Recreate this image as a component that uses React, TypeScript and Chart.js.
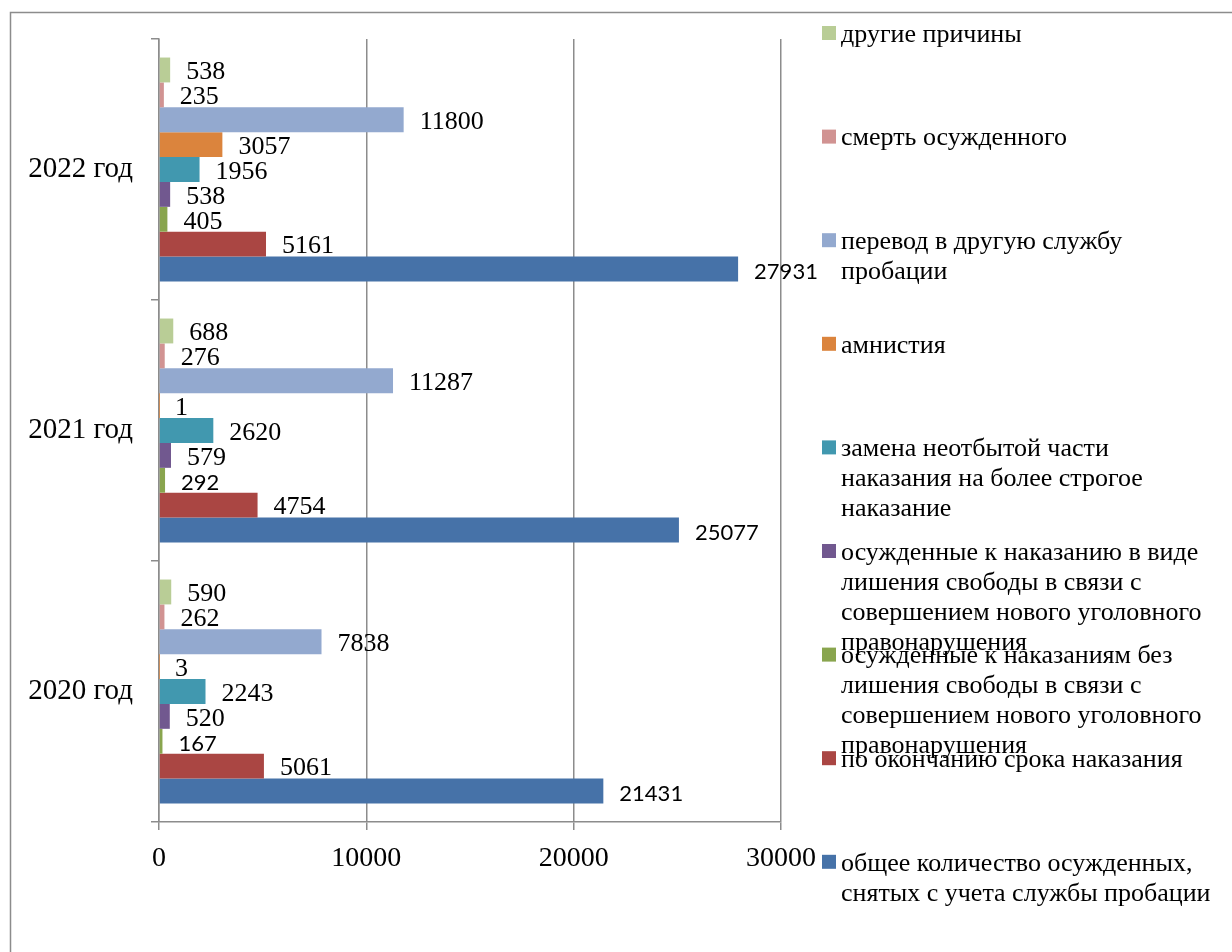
import React, { useEffect, useRef } from "react";
import { Chart, registerables } from "chart.js";

Chart.register(...registerables);

// ---- Data ----
const categories = ["2022 год", "2021 год", "2020 год"];

const otherReasons = [538, 688, 590];
const deathOfConvict = [235, 276, 262];
const transferProbation = [11800, 11287, 7838];
const amnesty = [3057, 1, 3];
const replacementStricter = [1956, 2620, 2243];
const imprisonedNewCrime = [538, 579, 520];
const nonCustodialNewCrime = [405, 292, 167];
const sentenceEnd = [5161, 4754, 5061];
const totalRemoved = [27931, 25077, 21431];

const xTickValues = [0, 10000, 20000, 30000];

const legendLines: string[][] = [
  ["другие причины"],
  ["смерть осужденного"],
  ["перевод в другую службу", "пробации"],
  ["амнистия"],
  ["замена неотбытой части", "наказания на более строгое", "наказание"],
  [
    "осужденные к наказанию в виде",
    "лишения свободы в связи с",
    "совершением нового уголовного",
    "правонарушения",
  ],
  [
    "осужденные к наказаниям без",
    "лишения свободы в связи с",
    "совершением нового уголовного",
    "правонарушения",
  ],
  ["по окончанию срока наказания"],
  ["общее количество осужденных,", "снятых с учета службы пробации"],
];

const seriesValues = [
  otherReasons,
  deathOfConvict,
  transferProbation,
  amnesty,
  replacementStricter,
  imprisonedNewCrime,
  nonCustodialNewCrime,
  sentenceEnd,
  totalRemoved,
];

const seriesColors = [
  "#B9CD96",
  "#D19392",
  "#93A9CF",
  "#DB843D",
  "#4198AF",
  "#71588F",
  "#89A54E",
  "#AA4643",
  "#4672A8",
];

// which value labels are set in a sans (Calibri-like) face
const sansLabelFlags = [
  [false, false, false],
  [false, false, false],
  [false, false, false],
  [false, false, false],
  [false, false, false],
  [false, false, false],
  [false, true, true],
  [false, false, false],
  [true, true, true],
];

const SERIF = '"Liberation Serif", "Times New Roman", serif';
const SANS = 'Lato, "Open Sans", sans-serif';
const GRID = "#8c8c8c";

const framePlugin = {
  id: "frame",
  beforeDraw(chart: any) {
    const ctx = chart.ctx;
    ctx.save();
    ctx.fillStyle = "#fff";
    ctx.fillRect(0, 0, chart.width, chart.height);
    ctx.strokeStyle = GRID;
    ctx.lineWidth = 1.5;
    ctx.beginPath();
    ctx.moveTo(10.5, chart.height);
    ctx.lineTo(10.5, 12.5);
    ctx.lineTo(chart.width, 12.5);
    ctx.stroke();
    ctx.restore();
  },
};

const valueLabelPlugin = {
  id: "valueLabels",
  afterDatasetsDraw(chart: any) {
    const ctx = chart.ctx;
    ctx.save();
    ctx.textAlign = "left";
    ctx.textBaseline = "middle";
    ctx.fillStyle = "#000";
    chart.data.datasets.forEach((ds: any, i: number) => {
      const meta = chart.getDatasetMeta(i);
      meta.data.forEach((bar: any, j: number) => {
        const sans = sansLabelFlags[i][j];
        ctx.font = sans ? `22px ${SANS}` : `26px ${SERIF}`;
        ctx.fillText(String(ds.data[j]), bar.x + 16, bar.y + 2.5);
      });
    });
    ctx.restore();
  },
};

const sideLegendPlugin = {
  id: "sideLegend",
  afterDraw(chart: any) {
    const ctx = chart.ctx;
    ctx.save();
    ctx.font = `26px ${SERIF}`;
    ctx.textAlign = "left";
    ctx.textBaseline = "middle";
    chart.data.datasets.forEach((ds: any, i: number) => {
      const cy = 33 + i * 103.6;
      ctx.fillStyle = ds.backgroundColor;
      ctx.fillRect(822, cy - 7, 14, 14);
      ctx.fillStyle = "#000";
      legendLines[i].forEach((line, k) => {
        ctx.fillText(line, 841, cy + 2 + k * 30);
      });
    });
    ctx.restore();
  },
};

export default function App() {
  const canvasRef = useRef<HTMLCanvasElement | null>(null);

  useEffect(() => {
    if (!canvasRef.current) return;
    const chart = new Chart(canvasRef.current, {
      type: "bar",
      data: {
        labels: categories,
        datasets: seriesValues.map((vals, i) => ({
          label: legendLines[i].join(" "),
          data: vals,
          backgroundColor: seriesColors[i],
          borderWidth: 0,
          categoryPercentage: 0.858,
          barPercentage: 1,
        })),
      },
      options: {
        indexAxis: "y",
        animation: false,
        responsive: false,
        devicePixelRatio: 1,
        layout: { padding: { top: 39, right: 451, left: 0, bottom: 0 } },
        plugins: {
          legend: { display: false },
          tooltip: { enabled: false },
        },
        scales: {
          x: {
            min: 0,
            max: 30000,
            afterBuildTicks(scale: any) {
              scale.ticks = xTickValues.map((v) => ({ value: v }));
            },
            ticks: {
              color: "#000",
              font: { family: SERIF, size: 28 },
              padding: 12,
              maxRotation: 0,
              callback: (v: any) => String(v),
            },
            grid: { color: GRID, lineWidth: 1.5, tickLength: 8 },
            border: { color: GRID, width: 1.5 },
            afterFit(scale: any) {
              scale.height = 130;
            },
          },
          y: {
            ticks: {
              color: "#000",
              font: { family: SERIF, size: 29 },
              padding: 18,
            },
            grid: {
              offset: true,
              drawOnChartArea: false,
              tickLength: 8,
              color: GRID,
              lineWidth: 1.5,
            },
            border: { color: GRID, width: 1.5 },
            afterFit(scale: any) {
              scale.width = 159;
            },
          },
        },
      },
      plugins: [framePlugin, valueLabelPlugin, sideLegendPlugin],
    } as any);
    return () => chart.destroy();
  }, []);

  return (
    <div
      style={{
        position: "fixed",
        left: 0,
        top: 0,
        width: 1232,
        height: 952,
        background: "#fff",
      }}
    >
      <canvas ref={canvasRef} width={1232} height={952} style={{ width: 1232, height: 952, display: "block" }} />
    </div>
  );
}
